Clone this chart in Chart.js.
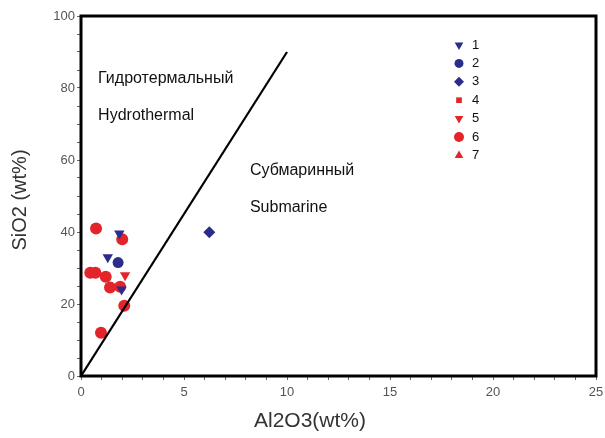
<!DOCTYPE html>
<html>
<head>
<meta charset="utf-8">
<script src="https://cdn.jsdelivr.net/npm/chart.js@4/dist/chart.umd.min.js"></script>
<style>
  html, body { margin: 0; padding: 0; background: #fff; }
  #wrap { width: 605px; height: 438px; }
</style>
</head>
<body>
<div id="wrap"><canvas id="chart"></canvas></div>
<script>
// Series values (Al2O3 wt%, SiO2 wt%)
const labels = ['1', '2', '3', '4', '5', '6', '7'];
const s1Al = [1.86, 1.3, 1.97];
const s1Si = [39.6, 33.0, 24.0];
const s2Al = [1.8];
const s2Si = [31.5];
const s3Al = [6.23];
const s3Si = [39.9];
const s4Al = [];
const s4Si = [];
const s5Al = [2.14];
const s5Si = [28.0];
const s6Al = [0.73, 2.0, 0.45, 0.7, 1.2, 1.41, 1.9, 2.1, 0.97];
const s6Si = [41.0, 38.0, 28.7, 28.7, 27.6, 24.6, 24.8, 19.5, 12.0];
const s7Al = [];
const s7Si = [];
// boundary line between fields
const boundAl = [0, 10];
const boundSi = [0, 90];
const xTicks = [0, 5, 10, 15, 20, 25];
const yTicks = [0, 20, 40, 60, 80, 100];

const BLUE = '#2b2c8c';
const RED = '#e3242b';
const FONT = '"Liberation Sans", Arial, sans-serif';

function pts(xs, ys) {
    return xs.map((x, i) => ({ x: x, y: ys[i] }));
}

// marker styles for legend entries 1..7
const styles = [
    { pointStyle: 'triangle', rotation: 180, color: BLUE, r: 6 },
    { pointStyle: 'circle', rotation: 0, color: BLUE, r: 5.5 },
    { pointStyle: 'rectRot', rotation: 0, color: BLUE, r: 6 },
    { pointStyle: 'rect', rotation: 0, color: RED, r: 5 },
    { pointStyle: 'triangle', rotation: 180, color: RED, r: 6 },
    { pointStyle: 'circle', rotation: 0, color: RED, r: 6 },
    { pointStyle: 'triangle', rotation: 0, color: RED, r: 6 }
];
const seriesData = [
    pts(s1Al, s1Si), pts(s2Al, s2Si), pts(s3Al, s3Si), pts(s4Al, s4Si),
    pts(s5Al, s5Si), pts(s6Al, s6Si), pts(s7Al, s7Si)
];

const datasets = seriesData.map((d, i) => ({
    type: 'scatter',
    label: labels[i],
    data: d,
    pointStyle: styles[i].pointStyle,
    rotation: styles[i].rotation,
    pointRadius: styles[i].r,
    pointHoverRadius: styles[i].r,
    backgroundColor: styles[i].color,
    borderColor: styles[i].color,
    borderWidth: 0
}));
datasets.unshift({
    type: 'line',
    label: 'boundary',
    data: pts(boundAl, boundSi),
    borderColor: '#000',
    borderWidth: 2.2,
    pointRadius: 0,
    fill: false
});

// field names, frame, axis titles and in-plot legend
const extras = {
    id: 'extras',
    afterDatasetsDraw(chart) {
        const ctx = chart.ctx;
        const a = chart.chartArea;
        const xs = chart.scales.x, ys = chart.scales.y;
        ctx.save();
        ctx.strokeStyle = '#000';
        ctx.lineWidth = 3;
        ctx.strokeRect(a.left, a.top, a.right - a.left, a.bottom - a.top);

        ctx.fillStyle = '#111';
        ctx.font = '16px ' + FONT;
        ctx.textBaseline = 'middle';
        ctx.textAlign = 'left';
        ctx.fillText('Гидротермальный', xs.getPixelForValue(0.83), ys.getPixelForValue(82.5));
        ctx.fillText('Hydrothermal', xs.getPixelForValue(0.83), ys.getPixelForValue(72.3));
        ctx.fillText('Субмаринный', xs.getPixelForValue(8.2), ys.getPixelForValue(57));
        ctx.fillText('Submarine', xs.getPixelForValue(8.2), ys.getPixelForValue(46.8));

        ctx.font = '13px ' + FONT;
        labels.forEach((lab, i) => {
            const y = 45 + i * 18.4;
            const st = styles[i];
            ctx.fillStyle = st.color;
            ctx.strokeStyle = st.color;
            Chart.helpers.drawPoint(ctx, {
                pointStyle: st.pointStyle, rotation: st.rotation,
                radius: st.r - 1, borderWidth: 0
            }, 459, y);
            ctx.fillStyle = '#111';
            ctx.fillText(lab, 472, y);
        });

        // axis titles
        ctx.fillStyle = '#333';
        ctx.textAlign = 'center';
        ctx.font = '21px ' + FONT;
        ctx.fillText('Al2O3(wt%)', 310, 421);
        ctx.translate(20, 200);
        ctx.rotate(-Math.PI / 2);
        ctx.font = '20px ' + FONT;
        ctx.fillText('SiO2 (wt%)', 0, 0);
        ctx.restore();
    }
};

const tickFont = { family: FONT, size: 13 };

new Chart(document.getElementById('chart').getContext('2d'), {
    data: { datasets: datasets },
    options: {
        responsive: true,
        maintainAspectRatio: false,
        animation: false,
        layout: { padding: { top: 16, right: 9, left: 0, bottom: 0 } },
        plugins: {
            legend: { display: false },
            tooltip: { enabled: false }
        },
        scales: {
            x: {
                type: 'linear',
                min: 0, max: 25,
                afterBuildTicks: s => { s.ticks = Array.from({ length: 26 }, (_, i) => ({ value: i })); },
                afterFit: s => { s.height = 62; s.paddingRight = 0; },
                ticks: {
                    color: '#555', font: tickFont, padding: 5, maxRotation: 0, autoSkip: false,
                    callback: v => xTicks.includes(v) ? String(v) : ''
                },
                grid: { drawOnChartArea: false, drawTicks: true, tickLength: 4, color: '#666' },
                border: { display: false }
            },
            y: {
                type: 'linear',
                min: 0, max: 100,
                afterBuildTicks: s => { s.ticks = Array.from({ length: 21 }, (_, i) => ({ value: i * 5 })); },
                afterFit: s => { s.width = 81; },
                ticks: {
                    color: '#555', font: tickFont, padding: 2, autoSkip: false,
                    callback: v => yTicks.includes(v) ? String(v) : ''
                },
                grid: { drawOnChartArea: false, drawTicks: true, tickLength: 4, color: '#666' },
                border: { display: false }
            }
        }
    },
    plugins: [extras]
});
</script>
</body>
</html>
